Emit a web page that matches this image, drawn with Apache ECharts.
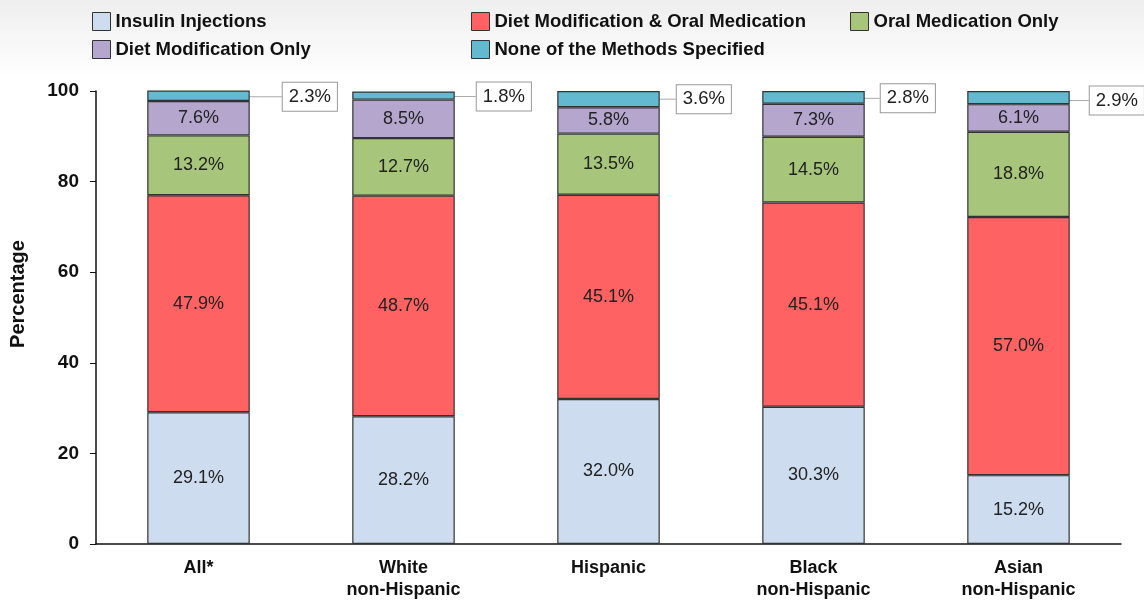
<!DOCTYPE html>
<html>
<head>
<meta charset="utf-8">
<script src="https://cdn.jsdelivr.net/npm/echarts@6/dist/echarts.min.js"></script>
<style>html,body{margin:0;padding:0;background:#fff;}#c{width:1144px;height:604px;}</style>
</head>
<body>
<div id="c"></div>
<script>
const categories = ['All*', 'White\nnon-Hispanic', 'Hispanic', 'Black\nnon-Hispanic', 'Asian\nnon-Hispanic'];
const seriesNames = ['Insulin Injections', 'Diet Modification & Oral Medication', 'Oral Medication Only', 'Diet Modification Only', 'None of the Methods Specified'];
const insulin = [29.1, 28.2, 32.0, 30.3, 15.2];
const dietOral = [47.9, 48.7, 45.1, 45.1, 57.0];
const oralOnly = [13.2, 12.7, 13.5, 14.5, 18.8];
const dietOnly = [7.6, 8.5, 5.8, 7.3, 6.1];
const noneSpec = [2.3, 1.8, 3.6, 2.8, 2.9];
const yTicks = [0, 20, 40, 60, 80, 100];

const colors = ['#cddcef', '#ff6262', '#a7c67c', '#b4a6cd', '#62b9d0'];
const seriesData = [insulin, dietOral, oralOnly, dietOnly, noneSpec];
const font = 'Liberation Sans, Arial, sans-serif';
// callout box shifts (pixels) for the top segment labels
const calloutDx = [28, 17, 12, 11, 15];
const calloutDy = [1, 1, 0, 1, 3];

const chart = echarts.init(document.getElementById('c'), null, {renderer: 'canvas'});

const series = seriesData.map((d, i) => {
  const isTop = i === 4;
  const s = {
    name: seriesNames[i],
    type: 'bar',
    stack: 'total',
    barWidth: '50%',
    data: d,
    itemStyle: {color: colors[i], borderColor: '#333', borderWidth: 1.2},
    emphasis: {disabled: true},
    label: {
      show: true,
      position: isTop ? 'right' : 'inside',
      formatter: p => p.value.toFixed(1) + '%',
      fontFamily: font,
      fontSize: 18,
      color: '#222'
    }
  };
  if (isTop) {
    s.label.backgroundColor = '#fff';
    s.label.borderColor = '#999';
    s.label.borderWidth = 1;
    s.label.padding = [5, 6, 4, 6];
    s.label.distance = 5;
    s.label.fontSize = 18.5;
    s.labelLayout = p => ({dx: calloutDx[p.dataIndex], dy: calloutDy[p.dataIndex]});
    s.labelLine = {show: true, lineStyle: {color: '#aaa', width: 1}};
  }
  return s;
});

const legendPos = [[92, 12], [471, 12], [850, 12], [92, 40], [471, 40]];
const legends = seriesNames.map((n, i) => ({
  data: [n],
  left: legendPos[i][0],
  top: legendPos[i][1],
  padding: 0,
  icon: 'rect',
  itemWidth: 18,
  itemHeight: 18,
  itemGap: 4,
  selectedMode: false,
  itemStyle: {borderColor: '#333', borderWidth: 1},
  textStyle: {fontFamily: font, fontSize: 18.5, fontWeight: 'bold', color: '#111', padding: [0, 0, 0, 0]}
}));

chart.setOption({
  animation: false,
  backgroundColor: '#fff',
  graphic: [{
    type: 'rect', z: -10, silent: true,
    shape: {x: 0, y: 0, width: 1144, height: 78},
    style: {fill: new echarts.graphic.LinearGradient(0, 0, 0, 1, [{offset: 0, color: '#eeeeee'}, {offset: 1, color: '#ffffff'}])}
  }, {
    type: 'text', silent: true,
    x: 8, y: 294, rotation: Math.PI / 2,
    style: {text: 'Percentage', font: 'bold 20px Liberation Sans, Arial, sans-serif', fill: '#111', align: 'center', verticalAlign: 'top'}
  }],
  legend: legends,
  grid: {left: 96, right: 23, top: 91, bottom: 60, containLabel: false},
  xAxis: {
    type: 'category',
    data: categories,
    axisLine: {lineStyle: {color: '#111', width: 1.5}},
    axisTick: {show: false},
    axisLabel: {fontFamily: font, fontSize: 18, fontWeight: 'bold', color: '#111', lineHeight: 22, margin: 13}
  },
  yAxis: {
    type: 'value',
    min: yTicks[0],
    max: yTicks[yTicks.length - 1],
    interval: 20,
    axisLine: {show: true, lineStyle: {color: '#111', width: 1.5}},
    axisTick: {show: true, length: 6, lineStyle: {color: '#111'}},
    splitLine: {show: false},
    axisLabel: {fontFamily: font, fontSize: 19, fontWeight: 'bold', color: '#111', margin: 17}
  },
  series: series
});
</script>
</body>
</html>
